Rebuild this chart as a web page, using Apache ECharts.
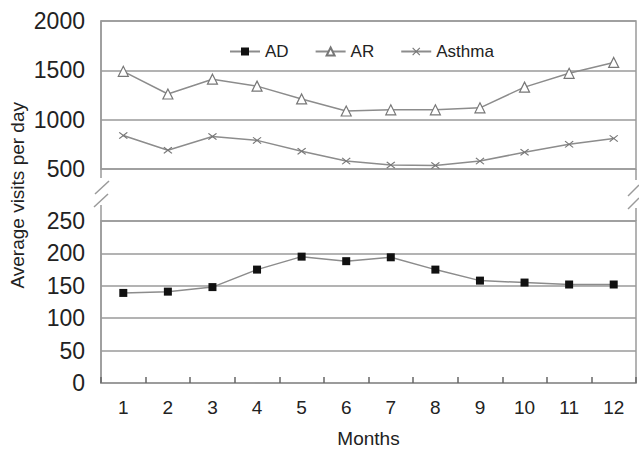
<!DOCTYPE html>
<html>
<head>
<meta charset="utf-8">
<script src="https://cdn.jsdelivr.net/npm/echarts@6/dist/echarts.min.js"></script>
<style>html,body{margin:0;padding:0;background:#fff}#c{width:639px;height:451px}</style>
</head>
<body>
<div id="c"></div>
<script>
var months = ['1','2','3','4','5','6','7','8','9','10','11','12'];
var AD = [139, 141, 148, 175, 195, 188, 194, 175, 158, 155, 152, 152];
var AR = [1490, 1260, 1410, 1340, 1210, 1088, 1100, 1100, 1120, 1330, 1470, 1580];
var Asthma = [840, 690, 830, 790, 680, 580, 540, 535, 580, 670, 750, 810];
var topTicks = [500, 1000, 1500, 2000];
var bottomTicks = [0, 50, 100, 150, 200, 250];

var FONT = '"Liberation Sans", Arial, sans-serif';
var gridColor = '#9a9a9a';
var lineColor = '#8c8c8c';
var xPath = 'path://M0,1L1,0L5,4L9,0L10,1L6,5L10,9L9,10L5,6L1,10L0,9L4,5Z';

var chart = echarts.init(document.getElementById('c'), null, {renderer: 'svg'});
chart.setOption({
  animation: false,
  backgroundColor: '#fff',
  textStyle: {fontFamily: FONT},
  legend: {
    left: 224, top: 38,
    itemWidth: 30, itemHeight: 10, itemGap: 26,
    textStyle: {fontSize: 17, color: '#222', fontFamily: FONT},
    data: ['AD', 'AR', 'Asthma']
  },
  grid: [
    {left: 101, right: 3, top: 21, height: 148, show: true, borderColor: gridColor, borderWidth: 1.5, backgroundColor: 'transparent'},
    {left: 101, right: 3, top: 221, height: 162, show: true, borderColor: gridColor, borderWidth: 1.5, backgroundColor: 'transparent'}
  ],
  xAxis: [
    {type: 'category', gridIndex: 0, data: months, boundaryGap: true, show: false},
    {type: 'category', gridIndex: 1, data: months, boundaryGap: true,
     axisLine: {lineStyle: {color: gridColor, width: 1.5}},
     axisTick: {show: true, inside: true, length: 6, lineStyle: {color: '#666', width: 1.5}},
     axisLabel: {fontSize: 19, color: '#222', margin: 15, fontFamily: FONT},
     name: 'Months', nameLocation: 'middle', nameGap: 46,
     nameTextStyle: {fontSize: 19, color: '#222', fontFamily: FONT}}
  ],
  yAxis: [
    {type: 'value', gridIndex: 0, min: 500, max: 2000, interval: 500,
     axisLine: {show: true, lineStyle: {color: gridColor, width: 1.5}},
     axisTick: {show: false},
     axisLabel: {fontSize: 23, color: '#222', margin: 16, fontFamily: FONT,
       formatter: function (v) { return topTicks.indexOf(v) >= 0 ? String(v) : ''; }},
     splitLine: {lineStyle: {color: gridColor, width: 1.5}}},
    {type: 'value', gridIndex: 1, min: 0, max: 250, interval: 50,
     axisLine: {show: true, lineStyle: {color: gridColor, width: 1.5}},
     axisTick: {show: false},
     axisLabel: {fontSize: 23, color: '#222', margin: 16, fontFamily: FONT,
       formatter: function (v) { return bottomTicks.indexOf(v) >= 0 ? String(v) : ''; }},
     splitLine: {lineStyle: {color: gridColor, width: 1.5}}}
  ],
  series: [
    {name: 'AD', type: 'line', xAxisIndex: 1, yAxisIndex: 1, data: AD,
     symbol: 'rect', symbolSize: 8, showAllSymbol: true,
     lineStyle: {color: lineColor, width: 1.5},
     itemStyle: {color: '#111', borderColor: '#111', borderWidth: 0}},
    {name: 'AR', type: 'line', xAxisIndex: 0, yAxisIndex: 0, data: AR,
     symbol: 'triangle', symbolSize: 10, showAllSymbol: true,
     lineStyle: {color: lineColor, width: 1.5},
     itemStyle: {color: '#fff', borderColor: '#777', borderWidth: 1.2}},
    {name: 'Asthma', type: 'line', xAxisIndex: 0, yAxisIndex: 0, data: Asthma,
     symbol: xPath, symbolSize: [9, 7], showAllSymbol: true,
     lineStyle: {color: lineColor, width: 1.5},
     itemStyle: {color: '#777'}}
  ],
  graphic: [
    {type: 'text', left: 8, top: 102, rotation: Math.PI / 2, originX: 0, originY: 0,
     style: {text: 'Average visits per day', fontSize: 19, fill: '#222', font: '19px "Liberation Sans", Arial, sans-serif'}},
    {type: 'line', shape: {x1: 101, y1: 169, x2: 101, y2: 178}, style: {stroke: gridColor, lineWidth: 1.5}},
    {type: 'line', shape: {x1: 101, y1: 221, x2: 101, y2: 205}, style: {stroke: gridColor, lineWidth: 1.5}},
    {type: 'line', shape: {x1: 95, y1: 194, x2: 109, y2: 181}, style: {stroke: gridColor, lineWidth: 1.5}},
    {type: 'line', shape: {x1: 94, y1: 207, x2: 108, y2: 194}, style: {stroke: gridColor, lineWidth: 1.5}},
    {type: 'line', shape: {x1: 636, y1: 169, x2: 636, y2: 180}, style: {stroke: gridColor, lineWidth: 1.5}},
    {type: 'line', shape: {x1: 636, y1: 221, x2: 636, y2: 208}, style: {stroke: gridColor, lineWidth: 1.5}},
    {type: 'line', shape: {x1: 628, y1: 196, x2: 639, y2: 185}, style: {stroke: gridColor, lineWidth: 1.5}},
    {type: 'line', shape: {x1: 628, y1: 209, x2: 639, y2: 198}, style: {stroke: gridColor, lineWidth: 1.5}}
  ]
});
</script>
</body>
</html>
